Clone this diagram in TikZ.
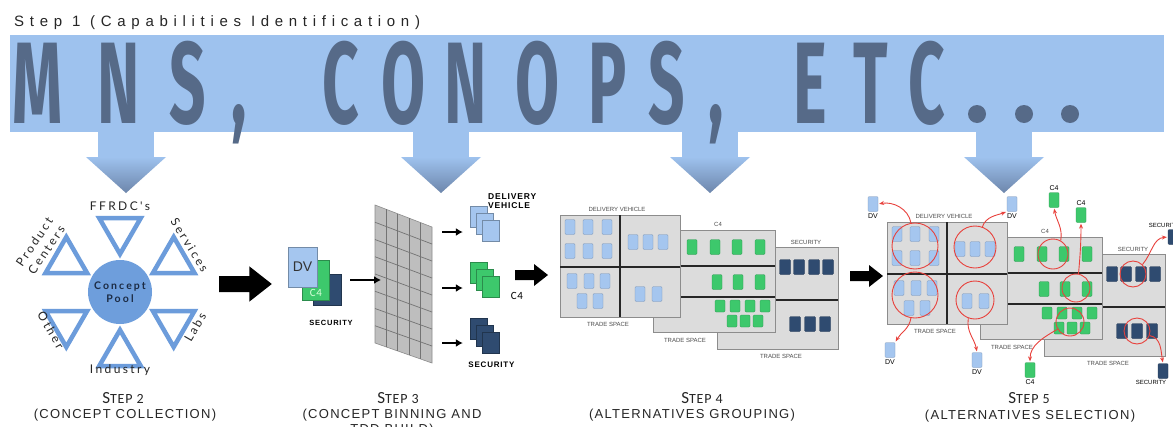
\documentclass[tikz,border=0pt]{standalone}
\usepackage{fontspec}
\setmainfont{Liberation Sans}
\newfontfamily\bigfont{Fira Sans}
\newfontfamily\trackfont[LetterSpace=38]{Liberation Sans}
\newfontfamily\gillfont[LetterSpace=20]{Lato}
\newfontfamily\capsfont[LetterSpace=10]{Liberation Sans}
\newfontfamily\stepfont[LetterSpace=6]{Carlito}
\usetikzlibrary{shapes.geometric,arrows.meta,calc,shadows,positioning}

\definecolor{bannerblue}{HTML}{9EC2EE}
\definecolor{slate}{HTML}{566A88}
\definecolor{tipblue}{HTML}{6D86AB}
\definecolor{poolblue}{HTML}{6E9EDC}
\definecolor{triblue}{HTML}{6C9CDB}
\definecolor{pooltext}{HTML}{1C2B44}
\definecolor{dvblue}{HTML}{A5C6EF}
\definecolor{cgreen}{HTML}{3DC86C}
\definecolor{secnavy}{HTML}{2F4B70}
\definecolor{panelgrey}{HTML}{DCDCDC}
\definecolor{gridgrey}{HTML}{BEBEBE}
\definecolor{selred}{HTML}{E8413C}

\newcommand{\stepno}[1]{{\fontsize{17}{17}\selectfont S}TEP #1}

\tikzset{
  bigletter/.style={font=\bigfont\bfseries\fontsize{116}{116}\selectfont, text=slate, inner sep=0pt, anchor=base},
  pool/.style={circle, fill=poolblue, minimum size=64pt, inner sep=0pt, align=center, text=pooltext,
    font=\gillfont\bfseries\fontsize{10.5}{13}\selectfont},
  tri/.style={regular polygon, regular polygon sides=3, draw=triblue, line width=4.5pt, fill=white,
    minimum size=48pt, inner sep=0pt},
  srclabel/.style={font=\gillfont\fontsize{12}{14.5}\selectfont, text=black!85, align=center, inner sep=0pt},
  binbox/.style={inner sep=0pt, fill=#1, draw=#1!70!black, line width=0.3pt},
  stackbox/.style={minimum width=17pt, minimum height=21pt, inner sep=0pt, fill=#1, draw=#1!70!black, line width=0.3pt},
  gridline/.style={draw=black!55, line width=0.7pt},
  smallarrow/.style={line width=2pt, -{Latex[length=7pt,width=8pt]}},
  blockarrow/.pic={\fill[black] (0,-5) -- (19,-5) -- (19,-11) -- (33,0) -- (19,11) -- (19,5) -- (0,5) -- cycle;},
  panel/.style={fill=panelgrey, draw=black!45, line width=0.6pt,
    drop shadow={shadow xshift=1.2pt, shadow yshift=-1.2pt, opacity=0.35}},
  divider/.style={line width=1.4pt, draw=black!85},
  item/.style={fill=#1, draw=#1!75!black, line width=0.3pt, rounded corners=1.2pt},
  panellabel/.style={font=\fontsize{6}{6}\selectfont, text=black!70, inner sep=0pt},
  steptitle/.style={font=\stepfont\fontsize{14}{14}\selectfont, text=black!85, inner sep=0pt},
  stepsub/.style={font=\capsfont\fontsize{13}{13}\selectfont, text=black!85, inner sep=0pt},
  selcircle/.style={circle, draw=selred, line width=0.9pt, inner sep=0pt},
  selarrow/.style={draw=selred, line width=0.9pt, -{Stealth[length=5pt,width=4pt]}, shorten >=1pt},
  pickbox/.style={minimum width=10pt, minimum height=15pt, inner sep=0pt, rounded corners=1pt,
    fill=#1, draw=#1!75!black, line width=0.3pt},
  picklabel/.style={font=\fontsize{7}{7}\selectfont, inner sep=0pt},
}

\begin{document}
\begin{tikzpicture}[x=1pt,y=1pt]
    \useasboundingbox (0,0) rectangle (1173,-426);
    \fill[white] (0,0) rectangle (1173,-426);

    % step 1 banner
    \node[anchor=base west, inner sep=0pt, font=\trackfont\fontsize{15}{15}\selectfont, text=black!85] (step1) at (14,-26) {Step 1 (Capabilities Identification)};
    \fill[bannerblue] (10,-35) rectangle (1164,-132);
    \foreach \ax in {126,441,710,1004} {
        \fill[bannerblue] (\ax-28,-131) rectangle (\ax+28,-157.5);
        \shade[top color=bannerblue, bottom color=tipblue] (\ax-40,-157) -- (\ax+40,-157) -- (\ax,-193) -- cycle;
    }
    \foreach \c/\x [count=\k] in {M/37.5, N/118.5, S/188, {,}/239, C/341, O/404, N/465.5, O/537.5, P/607.5, S/666.5, {,}/716, E/810, T/870.5, C/927}
        \node[bigletter] (big\k) at (\x,-123) {\scalebox{0.55}[1]{\c}};
    \foreach \x in {977,1024,1070}
        \fill[slate] (\x,-114) circle (9);

    % step 2
    \node[pool] (pool) at (120,-292) {Concept\\Pool};
    \foreach \a/\n in {90/ffrdc, 30/serv, -30/labs, -90/ind, -150/oth, 150/prod}
        \node[tri, rotate=\a+90] (tri\n) at ($(pool)+(\a:62)$) {};
    \node[srclabel] (lffrdc) at ($(pool)+(90:86)$) {FFRDC's};
    \node[srclabel, rotate=-58] (lserv) at ($(pool)+(34:84)$) {Services};
    \node[srclabel, rotate=60] (llabs) at ($(pool)+(-25:83)$) {Labs};
    \node[srclabel] (lind) at ($(pool)+(-90:78)$) {Industry};
    \node[srclabel, rotate=-60] (loth) at ($(pool)+(-151:79)$) {Other};
    \node[srclabel, rotate=56] (lprod) at ($(pool)+(150:92)$) {Product\\Centers};

    \pic[scale=1.6] at (219,-284) {blockarrow};

    % step 3
    \node[binbox=secnavy, minimum width=28pt, minimum height=31pt] (secbox) at (327,-289.5) {};
    \node[binbox=cgreen, minimum width=27pt, minimum height=40pt] (c4box) at (315.5,-280) {};
    \node[binbox=dvblue, minimum width=29pt, minimum height=40pt, font=\fontsize{14}{14}\selectfont, text=black!80] (dvbox) at (302.5,-267) {DV};
    \node[font=\stepfont\fontsize{11}{11}\selectfont, text=green!15!white, inner sep=0pt] (c4text) at (316,-293) {C4};
    \node[font=\capsfont\bfseries\fontsize{7.5}{7.5}\selectfont, inner sep=0pt] (sectext) at (331,-323) {SECURITY};

    \coordinate (gtl) at (375,-205);
    \coordinate (gtr) at (432,-227);
    \coordinate (gbr) at (432,-363);
    \coordinate (gbl) at (375,-343);
    \filldraw[fill=gridgrey, draw=black!45, line width=0.6pt] (gtl) -- (gtr) -- (gbr) -- (gbl) -- cycle;
    \foreach \i in {1,...,4}
        \draw[gridline] ($(gtl)!\i/5!(gtr)$) -- ($(gbl)!\i/5!(gbr)$);
    \foreach \j in {1,...,7}
        \draw[gridline] ($(gtl)!\j/8!(gbl)$) -- ($(gtr)!\j/8!(gbr)$);
    \coordinate (gin) at (381,-280);
    \draw[smallarrow] ([xshift=21pt]c4box.east) -- (gin);

    \foreach \col/\nm/\sy in {dvblue/dvs/216.5, cgreen/c4s/272.5, secnavy/secs/328.5}
        \foreach \k in {1,2,3}
            \node[stackbox=\col] (\nm\k) at (472.5+6*\k,-\sy+7-7*\k) {};
    \foreach \sy/\nm in {232/dvs, 288/c4s, 343/secs} {
        \coordinate (o\nm) at (442,-\sy);
        \draw[smallarrow, shorten >=7pt] (o\nm) -- (o\nm -| \nm1.west);
    }
    \node[font=\capsfont\bfseries\fontsize{8.5}{9}\selectfont, align=left, anchor=north west, inner sep=0pt] (dvlabel) at (488,-193) {DELIVERY\\VEHICLE};
    \node[font=\stepfont\fontsize{11}{11}\selectfont, inner sep=0pt] (c4label) at (517,-296) {C4};
    \node[font=\capsfont\bfseries\fontsize{8}{8}\selectfont, inner sep=0pt] (seclabel) at (491.5,-365) {SECURITY};

    \pic at (515,-275) {blockarrow};

    % steps 4 and 5: trade spaces
    \foreach \gx/\gy in {560/215, 887/222} {
        \begin{scope}[shift={(\gx,-\gy)}]
            \filldraw[panel] (157,-32) rectangle (278,-134);
            \draw[divider] (157,-85) -- (278,-85);
            \foreach \x in {225,239,254,268}
                \filldraw[item=secnavy] (\x-5.5,-44.5) rectangle (\x+5.5,-59.5);
            \foreach \x in {235,250,265}
                \filldraw[item=secnavy] (\x-5.5,-101.5) rectangle (\x+5.5,-116.5);

            \filldraw[panel] (93,-15) rectangle (215,-117);
            \draw[divider] (93,-51) -- (215,-51);
            \draw[divider] (93,-82) -- (215,-82);
            \foreach \x in {132,155,177,200}
                \filldraw[item=cgreen] (\x-5,-24.5) rectangle (\x+5,-39.5);
            \foreach \x in {157,178,200}
                \filldraw[item=cgreen] (\x-5,-59.5) rectangle (\x+5,-74.5);
            \foreach \x in {160,175,190,205}
                \filldraw[item=cgreen] (\x-5,-85) rectangle (\x+5,-97);
            \foreach \x in {172,185,198}
                \filldraw[item=cgreen] (\x-5,-100) rectangle (\x+5,-112);

            \filldraw[panel] (0,0) rectangle (120,-102);
            \draw[divider] (60,0) -- (60,-102);
            \draw[divider] (0,-52) -- (120,-52);
            \foreach \x/\y in {10/12,28/12,47/12,10/36,28/36,47/36,73/27,88/27,103/27,12/66,29/66,45/66,22/86,38/86,80/79,97/79}
                \filldraw[item=dvblue] (\x-5,-\y+7.5) rectangle (\x+5,-\y-7.5);

            \node[panellabel] (dvhead\gx) at (57,6) {DELIVERY VEHICLE};
            \node[panellabel] (dvfoot\gx) at (48,-109) {TRADE SPACE};
            \node[panellabel] (c4head\gx) at (158,-9) {C4};
            \node[panellabel] (c4foot\gx) at (125,-125) {TRADE SPACE};
            \node[panellabel] (sechead\gx) at (246,-27) {SECURITY};
            \node[panellabel] (secfoot\gx) at (221,-141) {TRADE SPACE};
        \end{scope}
    }

    \pic at (850,-276) {blockarrow};

    % step 5 selections
    \begin{scope}[shift={(887,-222)}]
        \foreach \n/\x/\y/\r in {1/28/24/23, 2/88/25/21, 3/28/73/23, 4/88/78/19, 5/166/32/15, 6/189/66/14, 7/183/100/14, 8/246/52/13, 9/250/109/13}
            \node[selcircle, minimum size=2*\r] (sel\n) at (\x,-\y) {};
    \end{scope}

    \node[pickbox=dvblue] (pdv1) at (873,-204) {};
    \node[picklabel, below=1.5pt of pdv1] (ldv1) {DV};
    \node[pickbox=dvblue] (pdv2) at (1012,-204) {};
    \node[picklabel, below=1.5pt of pdv2] (ldv2) {DV};
    \node[pickbox=dvblue] (pdv3) at (890,-350) {};
    \node[picklabel, below=1.5pt of pdv3] (ldv3) {DV};
    \node[pickbox=dvblue] (pdv4) at (977,-360) {};
    \node[picklabel, below=1.5pt of pdv4] (ldv4) {DV};
    \node[pickbox=cgreen] (pc41) at (1054,-200) {};
    \node[picklabel, above=1.5pt of pc41] (lc41) {C4};
    \node[pickbox=cgreen] (pc42) at (1081,-215) {};
    \node[picklabel, above=1.5pt of pc42] (lc42) {C4};
    \node[pickbox=cgreen] (pc43) at (1030,-370) {};
    \node[picklabel, below=1.5pt of pc43] (lc43) {C4};
    \node[pickbox=secnavy] (psec1) at (1173,-237) {};
    \node[picklabel, font=\fontsize{6}{6}\selectfont] (lsec1) at (1164,-225) {SECURITY};
    \node[pickbox=secnavy] (psec2) at (1163,-371) {};
    \node[picklabel, font=\fontsize{6}{6}\selectfont, below=1.5pt of psec2, xshift=-12pt] (lsec2) {SECURITY};

    \draw[selarrow] (sel1.100) to[out=100,in=10] (pdv1.east);
    \draw[selarrow] (sel2.70) to[out=70,in=200] (pdv2.south west);
    \draw[selarrow] (sel3.-100) to[out=-100,in=60] (pdv3.north east);
    \draw[selarrow] (sel4.-110) to[out=-100,in=100] (pdv4.north);
    \draw[selarrow] (sel5.60) to[out=80,in=-80] (pc41.south);
    \draw[selarrow] (sel6.80) to[out=85,in=-90] (pc42.south);
    \draw[selarrow] (sel7.-150) to[out=-150,in=90] (pc43.north);
    \draw[selarrow] (sel8.45) to[out=50,in=185] (psec1.west);
    \draw[selarrow] (sel9.-20) to[out=-10,in=100] (psec2.north);

    % step titles
    \node[steptitle] (t2) at (123,-398) {\stepno{2}};
    \node[stepsub] (s2) at (125,-415) {(CONCEPT COLLECTION)};
    \node[steptitle] (t3) at (398,-398) {\stepno{3}};
    \node[stepsub] (s3) at (392,-415) {(CONCEPT BINNING AND};
    \node[stepsub] (s3b) at (392,-430) {TDD BUILD)};
    \node[steptitle] (t4) at (702,-398) {\stepno{4}};
    \node[stepsub] (s4) at (692,-415) {(ALTERNATIVES GROUPING)};
    \node[steptitle] (t5) at (1029,-398) {\stepno{5}};
    \node[stepsub] (s5) at (1030,-416) {(ALTERNATIVES SELECTION)};

\end{tikzpicture}
\end{document}
